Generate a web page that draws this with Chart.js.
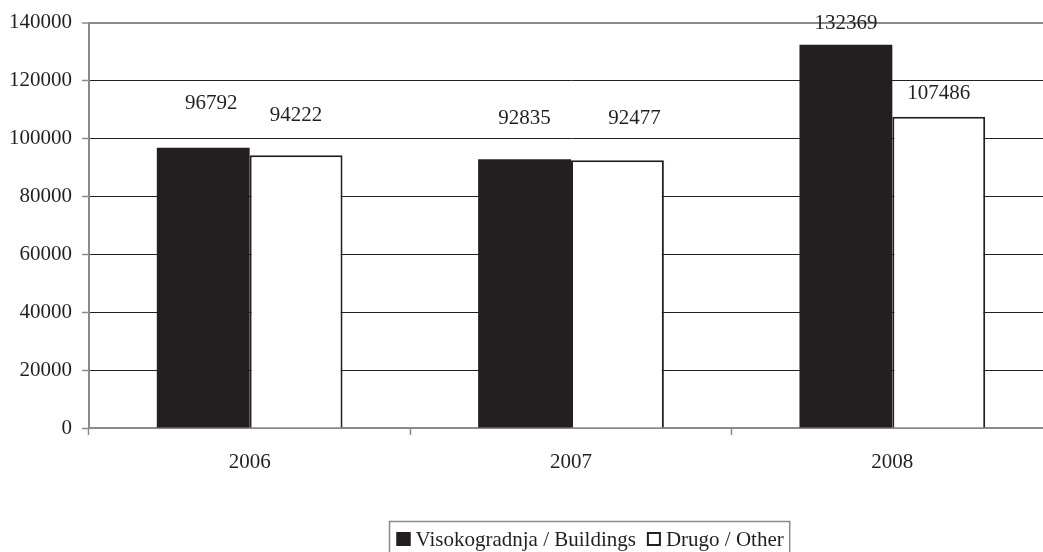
<!DOCTYPE html>
<html><head><meta charset="utf-8">
<script src="https://cdn.jsdelivr.net/npm/chart.js@4.4.1/dist/chart.umd.min.js"></script>
<style>
html,body{margin:0;padding:0;overflow:hidden;background:#fff;width:1043px;height:552px}
#wrap{width:1060px;height:552px;position:relative}
</style>
</head><body><div id="wrap"><canvas id="c" width="1060" height="552"></canvas></div>
<script>
const years = ['2006', '2007', '2008'];
const buildings = [96792, 92835, 132369];
const other = [94222, 92477, 107486];
const seriesNames = ['Visokogradnja / Buildings', 'Drugo / Other'];
const yMin = 0, yMax = 140000, yStep = 20000;

const INK = '#231f20', GRAY = '#8a8a8a';
const FONT = "'Liberation Serif', 'Times New Roman', serif";
Chart.defaults.font.family = FONT;
Chart.defaults.font.size = 21;
Chart.defaults.color = INK;

// label offsets (style), as in the reference placement
const labelOffsets = [
  [[8, 44], [0, 40]],
  [[0, 41], [17, 42]],
  [[0, 21], [0, 23]]
];

const valueLabels = {
  id: 'valueLabels',
  afterDatasetsDraw(chart) {
    const ctx = chart.ctx;
    ctx.save();
    ctx.font = '21px ' + FONT;
    ctx.fillStyle = INK;
    ctx.textAlign = 'center';
    ctx.textBaseline = 'middle';
    chart.data.datasets.forEach((ds, di) => {
      chart.getDatasetMeta(di).data.forEach((el, i) => {
        const off = labelOffsets[i][di];
        ctx.fillText(String(ds.data[i]), el.x + off[0], el.y - off[1]);
      });
    });
    ctx.restore();
  }
};

const boxLegend = {
  id: 'boxLegend',
  afterDraw(chart) {
    const ctx = chart.ctx;
    const ca = chart.chartArea;
    ctx.save();
    ctx.font = '21px ' + FONT;
    const sq = 14, padL = 7, gapSq = 5, gapItem = 11, padR = 6;
    const items = chart.data.datasets.map(d => ({label: d.label, fill: d.backgroundColor}));
    let w = padL;
    items.forEach((it, k) => {
      w += sq + gapSq + ctx.measureText(it.label).width;
      if (k < items.length - 1) w += gapItem;
    });
    w += padR;
    const cx = (ca.left + ca.right) / 2 + 22;
    const left = Math.round(cx - w / 2) - 3.5;
    const top = 521.5, cy = 539;
    ctx.strokeStyle = GRAY;
    ctx.lineWidth = 1.5;
    ctx.strokeRect(left, top, w, 60);
    let x = left + padL;
    ctx.textBaseline = 'middle';
    ctx.textAlign = 'left';
    items.forEach((it) => {
      ctx.fillStyle = it.fill;
      ctx.fillRect(x, cy - sq / 2, sq, sq);
      ctx.strokeStyle = INK;
      ctx.lineWidth = 2;
      ctx.strokeRect(x + 1, cy - sq / 2 + 1, sq - 2, sq - 2);
      x += sq + gapSq;
      ctx.fillStyle = INK;
      ctx.fillText(it.label, x, cy + 1);
      x += ctx.measureText(it.label).width + gapItem;
    });
    ctx.restore();
  }
};

new Chart(document.getElementById('c'), {
  type: 'bar',
  data: {
    labels: years,
    datasets: [
      {label: seriesNames[0], data: buildings, backgroundColor: INK, borderWidth: 0},
      {label: seriesNames[1], data: other, backgroundColor: '#ffffff', borderColor: INK, borderWidth: 2, borderSkipped: 'bottom'}
    ]
  },
  options: {
    responsive: false,
    animation: false,
    devicePixelRatio: 1,
    layout: {padding: {left: 0, right: 7, top: 22, bottom: 0}},
    categoryPercentage: 0.578,
    barPercentage: 1.0,
    plugins: {legend: {display: false}, tooltip: {enabled: false}},
    scales: {
      x: {
        grid: {drawOnChartArea: false, drawTicks: true, tickLength: 7, tickColor: GRAY, tickWidth: 1.5, offset: true},
        border: {color: GRAY, width: 2},
        ticks: {padding: 15, font: {size: 21}, color: INK},
        afterFit(s) { s.height = 124; }
      },
      y: {
        min: yMin, max: yMax,
        grid: {
          color: ctx => ctx.tick && ctx.tick.value === yMax ? GRAY : INK,
          lineWidth: ctx => ctx.tick && ctx.tick.value === yMax ? 2 : 1,
          tickLength: 7, tickColor: GRAY, tickWidth: 1.5
        },
        border: {color: GRAY, width: 2},
        ticks: {stepSize: yStep, padding: 10, font: {size: 21}, color: INK, callback: v => String(v)},
        afterFit(s) { s.width = 89; }
      }
    }
  },
  plugins: [valueLabels, boxLegend]
});
</script>
</body></html>
